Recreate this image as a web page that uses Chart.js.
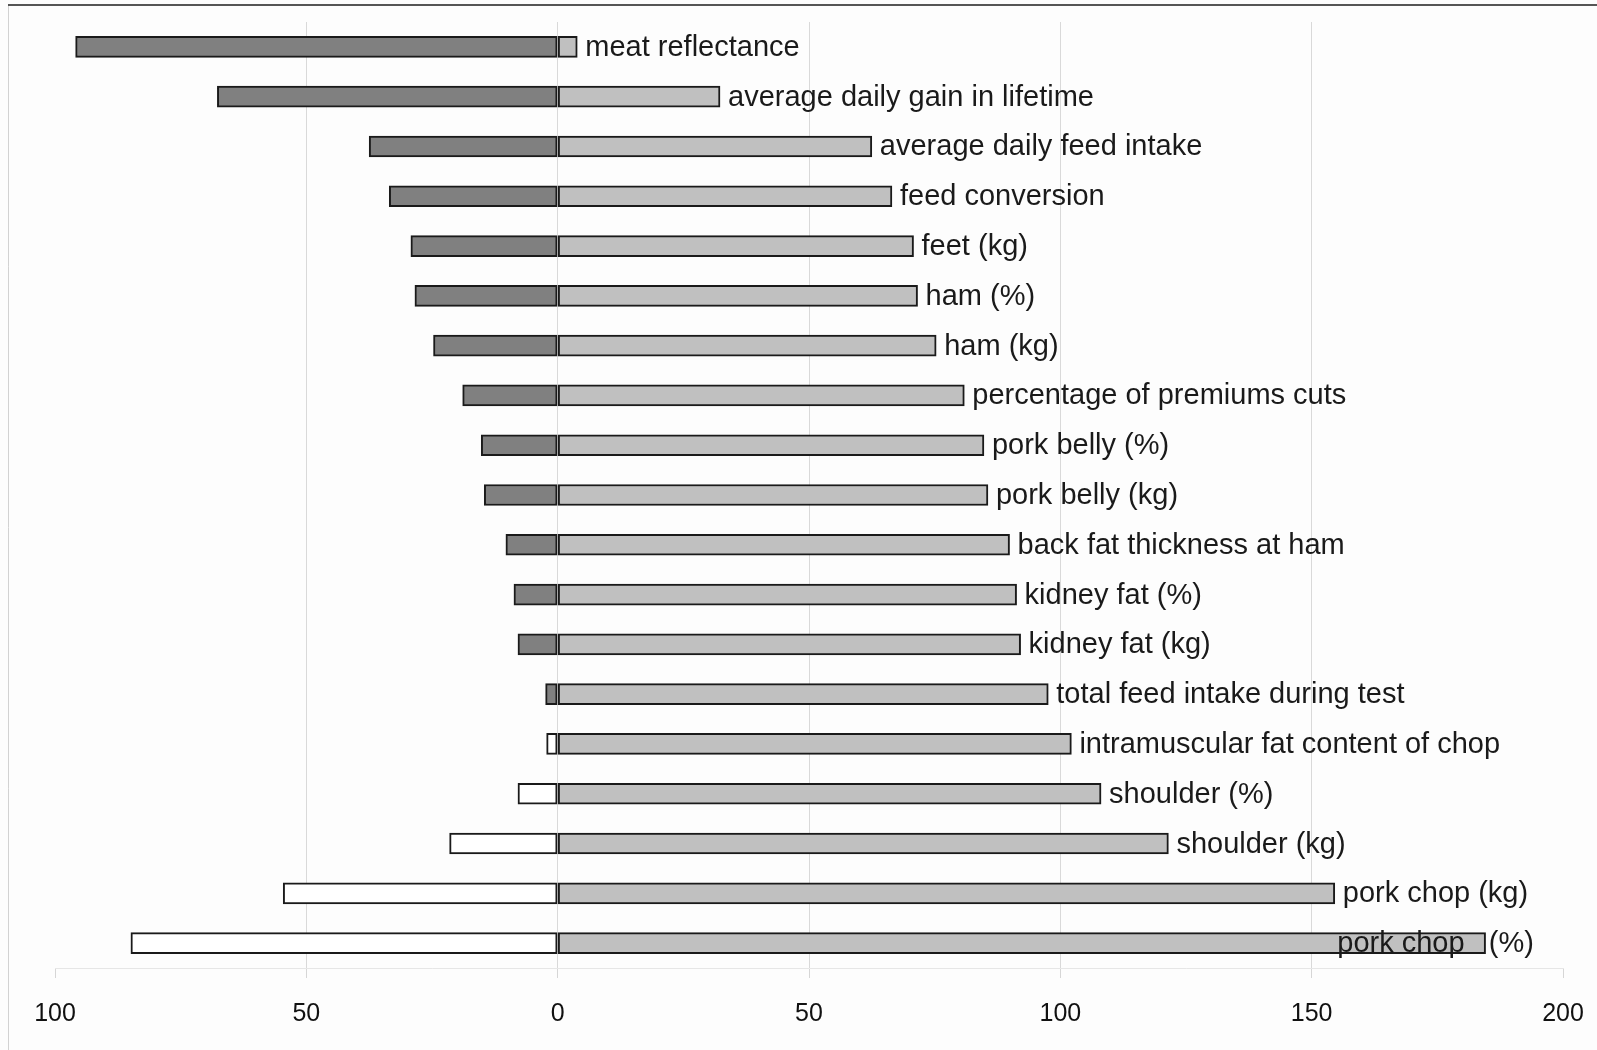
<!DOCTYPE html>
<html>
<head>
<meta charset="utf-8">
<script src="https://cdn.jsdelivr.net/npm/chart.js@4/dist/chart.umd.min.js"></script>
<style>
  body { margin: 0; background: #fdfdfd; }
  canvas { display: block; }
</style>
</head>
<body>
<canvas id="myChart" width="1597" height="1050"></canvas>
<script>
// traits, top to bottom
const traits = [
  "meat reflectance",
  "average daily gain in lifetime",
  "average daily feed intake",
  "feed conversion",
  "feet (kg)",
  "ham (%)",
  "ham (kg)",
  "percentage of premiums cuts",
  "pork belly (%)",
  "pork belly (kg)",
  "back fat thickness at ham",
  "kidney fat (%)",
  "kidney fat (kg)",
  "total feed intake during test",
  "intramuscular fat content of chop",
  "shoulder (%)",
  "shoulder (kg)",
  "pork chop (kg)",
  "pork chop   (%)",
];

const negValues = [-95.9, -67.7, -37.5, -33.5, -29.2, -28.4, -24.7, -18.9, -15.2, -14.6,
  -10.3, -8.7, -7.9, -2.4, -2.2, -7.9, -21.5, -54.6, -84.9];
const posValues = [3.9, 32.3, 62.5, 66.5, 70.8, 71.6, 75.3, 80.9, 84.8, 85.6,
  89.9, 91.3, 92.1, 97.6, 102.2, 108.1, 121.5, 154.6, 184.6];

// the last label sits where it was put in the original, not at its bar end
const labelAt = posValues.slice();
labelAt[18] = 153.5;

const xTicks = [-100, -50, 0, 50, 100, 150, 200];
const darkCount = 14; // first rows drawn with a dark left bar, rest white

const frame = {
  id: "frame",
  beforeDraw(chart) {
    const c = chart.ctx;
    c.save();
    c.fillStyle = "#fdfdfd";
    c.fillRect(0, 0, chart.width, chart.height);
    c.strokeStyle = "#d2d2d2";
    c.lineWidth = 1;
    c.beginPath();
    c.moveTo(8.5, 5);
    c.lineTo(8.5, chart.height);
    c.stroke();
    c.strokeStyle = "#555555";
    c.lineWidth = 2;
    c.beginPath();
    c.moveTo(8, 5);
    c.lineTo(chart.width, 5);
    c.stroke();
    c.restore();
  },
};

const barLabels = {
  id: "barLabels",
  afterDatasetsDraw(chart) {
    const c = chart.ctx;
    const xs = chart.scales.x;
    const ys = chart.scales.y;
    c.save();
    c.font = '29px "Liberation Sans", Arial, sans-serif';
    c.fillStyle = "#1a1a1a";
    c.textBaseline = "middle";
    c.textAlign = "left";
    for (let i = 0; i < traits.length; i++) {
      c.fillText(traits[i], xs.getPixelForValue(labelAt[i]) + 8, ys.getPixelForValue(i) + 1);
    }
    c.restore();
  },
};

const ctx = document.getElementById("myChart");

new Chart(ctx, {
  type: "bar",
  data: {
    labels: traits,
    datasets: [
      {
        data: negValues,
        backgroundColor: (c) => (c.dataIndex < darkCount ? "#808080" : "#ffffff"),
        borderColor: "#1a1a1a",
        borderWidth: 2,
        borderSkipped: false,
        barThickness: 21,
      },
      {
        data: posValues,
        backgroundColor: "#c0c0c0",
        borderColor: "#1a1a1a",
        borderWidth: 2,
        borderSkipped: false,
        barThickness: 21,
      },
    ],
  },
  options: {
    indexAxis: "y",
    responsive: false,
    animation: false,
    layout: {
      padding: { left: 55, right: 34, top: 22, bottom: 0 },
    },
    plugins: {
      legend: { display: false },
      tooltip: { enabled: false },
    },
    scales: {
      x: {
        stacked: true,
        min: xTicks[0],
        max: xTicks[xTicks.length - 1],
        afterBuildTicks: (axis) => {
          axis.ticks = xTicks.map((v) => ({ value: v }));
        },
        // let the layout padding alone decide where the axis ends
        afterFit: (axis) => {
          axis.paddingLeft = 0;
          axis.paddingRight = 0;
        },
        grid: {
          color: (c) =>
            c.tick && (c.tick.value === xTicks[0] || c.tick.value === xTicks[xTicks.length - 1])
              ? "rgba(0,0,0,0)"
              : "#d9d9d9",
          tickColor: "#d6d6d6",
          tickLength: 10,
        },
        border: { display: true, color: "#e6e6e6" },
        ticks: {
          padding: 21,
          color: "#111111",
          font: { family: '"Liberation Sans", Arial, sans-serif', size: 25 },
          callback: (v) => Math.abs(v),
          maxRotation: 0,
        },
      },
      y: {
        stacked: true,
        display: false,
      },
    },
  },
  plugins: [frame, barLabels],
});
</script>
</body>
</html>
